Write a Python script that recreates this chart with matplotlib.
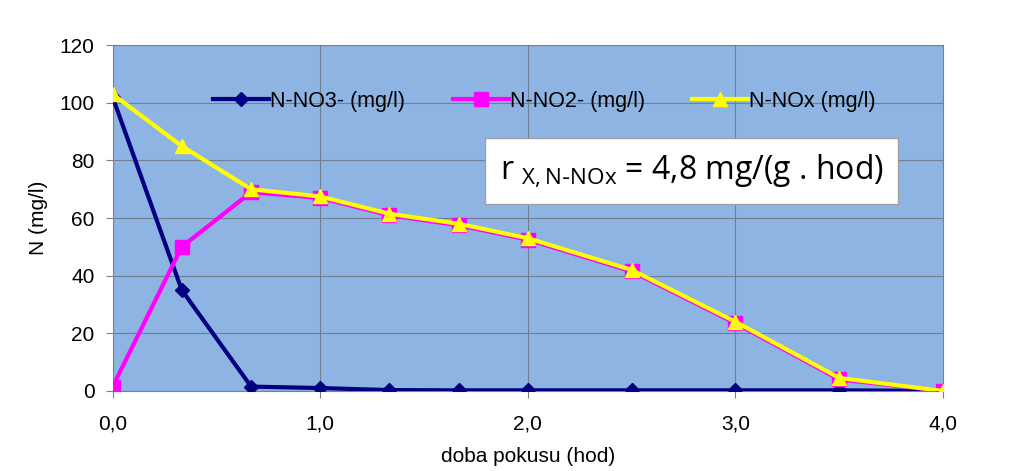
import matplotlib
matplotlib.use("Agg")
import matplotlib.pyplot as plt

plt.rcParams['font.family'] = ['Liberation Sans', 'DejaVu Sans']

# doba pokusu (hod)
cas = [0.0, 0.333, 0.667, 1.0, 1.333, 1.667, 2.0, 2.5, 3.0, 3.5, 4.0]
no3 = [102, 35, 1.5, 1.0, 0.3, 0.2, 0.2, 0.2, 0.2, 0.2, 0.0]
no2 = [1.5, 50, 69, 67, 61, 57.5, 52.5, 41.5, 23.5, 4.0, 0.0]
nox = [103, 85, 70, 67.5, 61.5, 58, 53, 42, 24, 4.5, 0.0]

fig = plt.figure(figsize=(10.24, 4.71), dpi=100)
ax = fig.add_axes([0.110, 0.170, 0.811, 0.734])
ax.set_facecolor('#8DB4E2')

ax.plot(cas, no3, color='#000080', lw=3, marker='D', ms=7, label='N-NO3- (mg/l)', zorder=3)
ax.plot(cas, no2, color='#FF00FF', lw=3, marker='s', ms=10, label='N-NO2- (mg/l)', zorder=4)
ax.plot(cas, nox, color='#FFFF00', lw=3, marker='^', ms=10, label='N-NOx (mg/l)', zorder=5)

ax.set_xlim(0, 4)
ax.set_ylim(0, 120)
ax.set_xticks([0, 1, 2, 3, 4])
ax.set_xticklabels(['0,0', '1,0', '2,0', '3,0', '4,0'])
ax.set_yticks(range(0, 121, 20))
ax.grid(True, color='#6F7F90', lw=0.8)
ax.set_axisbelow(True)
for s in ax.spines.values():
    s.set_color('#808080')
ax.tick_params(labelsize=15, direction='out', length=5, color='#808080')
ax.tick_params(axis='x', pad=12)
ax.tick_params(axis='y', pad=8)
ax.set_xlabel('doba pokusu (hod)', fontsize=15, labelpad=10)
ax.set_ylabel('N (mg/l)', fontsize=15, labelpad=8)

ax.legend(loc='center', bbox_to_anchor=(0.52, 0.838), ncol=3, frameon=False,
          fontsize=15.5, handlelength=2.6, handletextpad=0.05, columnspacing=2.2)

ax.text(0.466, 0.636, r'r $_{\mathregular{X,N\text{-}NOx}}$ = 4,8 mg/(g . hod)', transform=ax.transAxes,
        fontsize=23, family='Open Sans', va='center', ha='left',
        bbox=dict(facecolor='white', edgecolor='#A0A0A0', boxstyle='square,pad=0.45'))

fig.savefig('out.png', dpi=100)
